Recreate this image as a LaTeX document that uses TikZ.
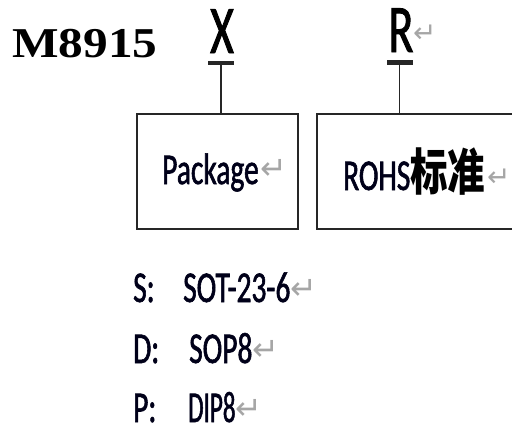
\documentclass[tikz,border=0pt]{standalone}
\usepackage{fontspec}
\newfontfamily\calf[FakeStretch=0.67,FakeBold=1.3]{Carlito}
\newfontfamily\serb[FakeStretch=1.16]{Liberation Serif}
\newfontfamily\cjkf[FakeStretch=0.75]{Noto Sans CJK SC}
\newfontfamily\dvs{DejaVu Sans}
\begin{document}
\begin{tikzpicture}[x=1pt,y=-1pt,
  lbl/.style={inner sep=0pt, anchor=base west, text=black!90!blue, font=\calf\fontsize{44}{50}\selectfont},
  big/.style={inner sep=0pt, anchor=base, text=black, font=\calf\fontsize{68}{70}\selectfont},
  ret/.style={inner sep=0pt, anchor=south west, text=black!35, font=\dvs\fontsize{32}{34}\selectfont},
  boxs/.style={draw=black!85, line width=1.6pt, inner sep=0pt, minimum height=115pt},
  bar/.style={fill=black!85, minimum width=26pt, minimum height=4.5pt, inner sep=0pt},
  conn/.style={draw=black!85, line width=1.5pt}]
\useasboundingbox (0,0) rectangle (512,432);
\clip (0,0) rectangle (512,432);
% title
\node[inner sep=0pt, anchor=base west, font=\serb\bfseries\fontsize{42.5}{46}\selectfont] (title) at (12,57) {M8915};
% code letters
\node[big] (x) at (222,53) {X};
\node[big] (r) at (401,52) {R};
\node[ret, font=\dvs\fontsize{28}{30}\selectfont] (rret) at (413,43) {↵};
\node[bar] (barx) at (221,63) {};
\node[bar] (barr) at (399.5,62.5) {};
% boxes
\node[boxs, minimum width=161pt] (pkgbox) at (217.5,171.5) {};
\node[boxs, minimum width=223pt] (rohsbox) at (428.5,171.5) {};
\draw[conn] (barx.south) -- (barx.south |- pkgbox.north);
\draw[conn] (barr.south) -- (barr.south |- rohsbox.north);
% box texts
\node[lbl] (pkg) at (162,184) {Package};
\node[ret] (pret) at ([xshift=1pt,yshift=4pt]pkg.base east) {↵};
\node[lbl] (rohs) at (343,190) {ROHS};
\node[inner sep=0pt, anchor=base west, text=black, font=\cjkf\bfseries\fontsize{50}{52}\selectfont] (std) at (410,190) {标准};
\node[ret, font=\dvs\fontsize{28}{30}\selectfont] (sret) at (487,187) {↵};
% list
\node[lbl] (s) at (133,302) {S:};
\node[lbl] (sot) at (183,302) {SOT-23-6};
\node[ret] (sotret) at ([xshift=0pt,yshift=2pt]sot.base east) {↵};
\node[lbl] (d) at (133,363) {D:};
\node[lbl] (sop) at (189,363) {SOP8};
\node[ret] (sopret) at ([xshift=0pt,yshift=2pt]sop.base east) {↵};
\node[lbl] (p) at (133,422) {P:};
\node[lbl, font=\calf\fontsize{44}{50}\selectfont] (dip) at (188,422) {\scalebox{0.85}[1]{DIP8}};
\node[ret] (dipret) at ([xshift=0pt,yshift=2pt]dip.base east) {↵};
\end{tikzpicture}
\end{document}
